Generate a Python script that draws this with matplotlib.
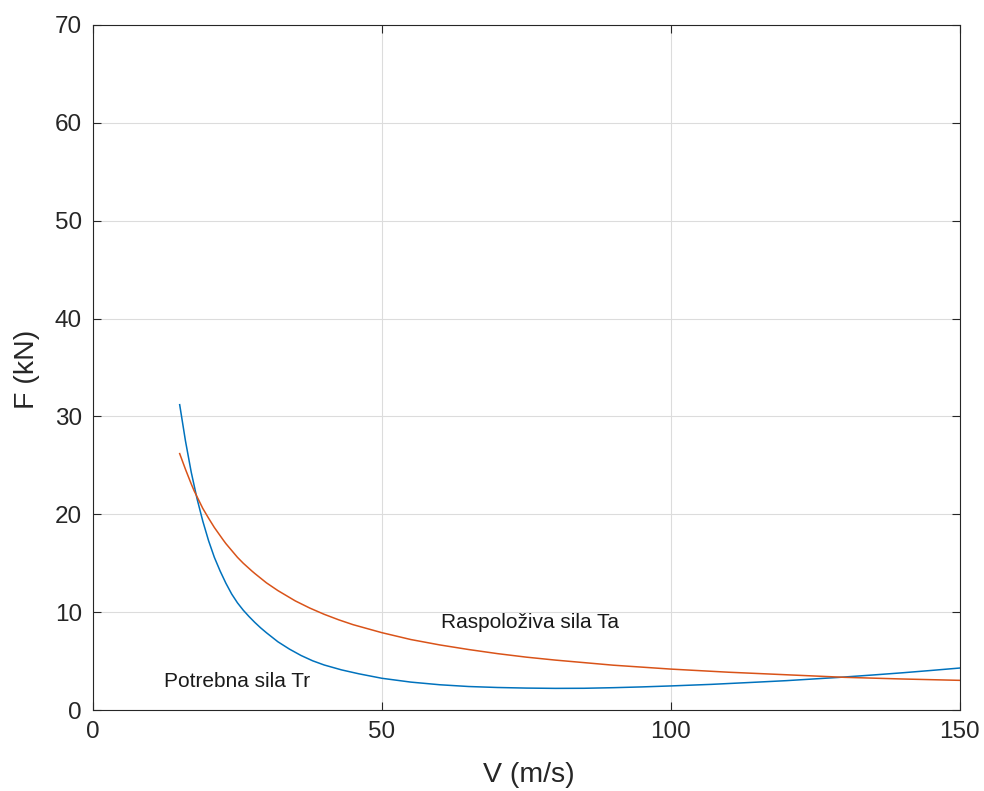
import matplotlib
matplotlib.use("Agg")
import matplotlib.pyplot as plt

# Data (V in m/s, F in kN)
v_tr = [15, 16, 17, 18, 19, 20, 21, 22, 23, 24, 25, 26, 27, 28, 29, 30, 32, 34, 36, 38, 40, 43, 46,
        50, 55, 60, 65, 70, 75, 80, 85, 90, 95, 100, 107, 115, 120, 129, 135, 140, 145, 150]
tr   = [31.2, 27.5, 24.3, 21.6, 19.3, 17.3, 15.6, 14.2, 12.95, 11.85, 10.95, 10.2, 9.55, 8.95, 8.4, 7.9, 6.97, 6.22, 5.57, 5.03, 4.6, 4.1, 3.7,
        3.24, 2.85, 2.58, 2.4, 2.3, 2.24, 2.21, 2.22, 2.28, 2.36, 2.46, 2.62, 2.85, 3.0, 3.33, 3.58, 3.8, 4.04, 4.29]

v_ta = [15, 16, 17, 17.5, 18, 19, 20, 21, 22.5, 23, 24, 25, 26, 27.5, 28, 30, 32, 35, 37.5, 40, 42.5, 45,
        50, 55, 60, 65, 70, 75, 80, 90, 100, 110, 120, 130, 140, 150]
ta   = [26.2, 24.6, 23.1, 22.4, 21.8, 20.6, 19.6, 18.65, 17.4, 17.0, 16.3, 15.6, 15.0, 14.2, 13.95, 13.0, 12.2, 11.15, 10.42, 9.78, 9.22, 8.72,
        7.9, 7.2, 6.65, 6.18, 5.76, 5.4, 5.1, 4.58, 4.18, 3.86, 3.6, 3.34, 3.17, 3.03]

x_ticks = [0, 50, 100, 150]
y_ticks = [0, 10, 20, 30, 40, 50, 60, 70]

plt.rcParams['font.family'] = ['Liberation Sans', 'DejaVu Sans']

fig = plt.figure(figsize=(9.84, 7.91), dpi=100)
ax = fig.add_axes([0.0945, 0.1024, 0.881, 0.866])

ax.plot(v_tr, tr, color='#0072BD', lw=1.1)
ax.plot(v_ta, ta, color='#D95319', lw=1.1)

ax.set_xlim(0, 150)
ax.set_ylim(0, 70)
ax.set_xticks(x_ticks)
ax.set_yticks(y_ticks)
ax.grid(True, color='#dcdcdc', lw=0.8)
ax.set_axisbelow(True)
ax.tick_params(direction='in', top=True, right=True, labelsize=17.5, length=6, width=0.8,
               colors='#262626', pad=8)
for s in ax.spines.values():
    s.set_color('#262626')
    s.set_linewidth(0.8)

fig.text(529 / 984, 1 - 775 / 791, 'V (m/s)', fontsize=20.5, color='#262626', ha='center', va='center')
fig.text(27 / 984, 1 - 369 / 791, 'F (kN)', fontsize=20.5, color='#262626', ha='center', va='center',
         rotation=90)

ax.text(12.3, 2.38, 'Potrebna sila Tr', fontsize=15, va='baseline', ha='left', color='#1a1a1a')
ax.text(60.3, 8.34, 'Raspoloživa sila Ta', fontsize=15, va='baseline', ha='left', color='#1a1a1a')

fig.savefig('out.png', dpi=100, facecolor='white')
